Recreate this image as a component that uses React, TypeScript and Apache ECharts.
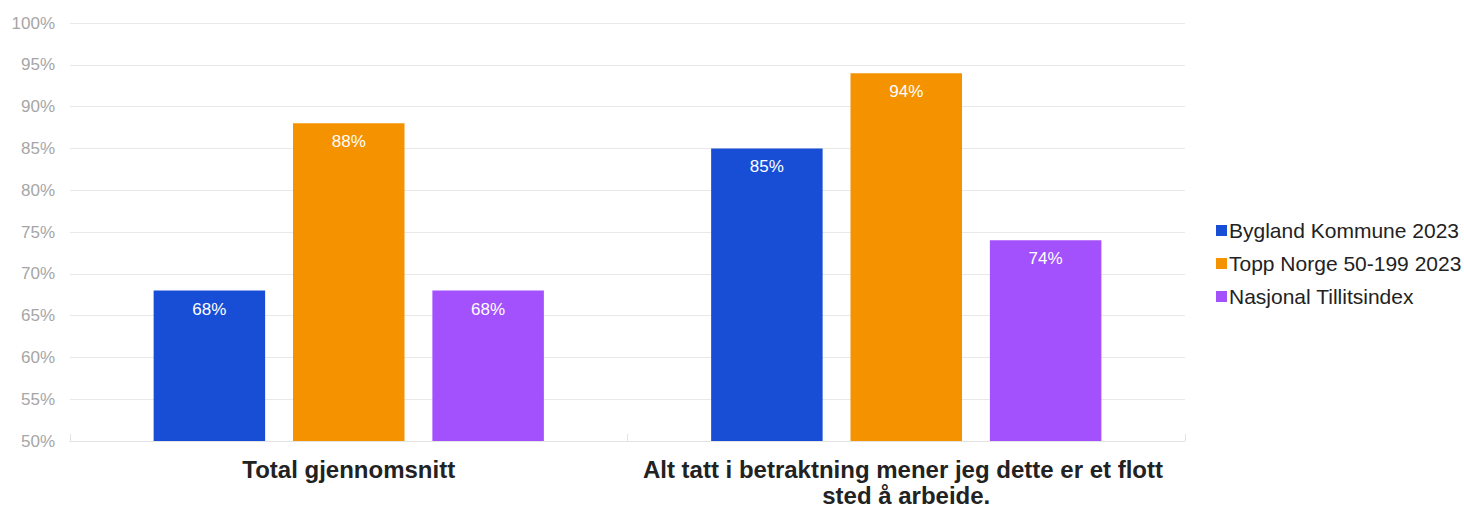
import React, { useEffect, useRef } from "react";
import * as echarts from "echarts";

const categories = [
  "Total gjennomsnitt",
  "Alt tatt i betraktning mener jeg dette er et flott sted å arbeide.",
];
const seriesNames = ["Bygland Kommune 2023", "Topp Norge 50-199 2023", "Nasjonal Tillitsindex"];
const bygland = [68, 85];
const toppNorge = [88, 94];
const nasjonal = [68, 74];
const colors = ["#184ED6", "#F59200", "#A351FD"];

export default function App() {
  const ref = useRef<HTMLDivElement>(null);
  useEffect(() => {
    if (!ref.current) return;
    const chart = echarts.init(ref.current, undefined, { renderer: "svg" });
    const data = [bygland, toppNorge, nasjonal];
    chart.setOption({
      animation: false,
      textStyle: { fontFamily: "Liberation Sans, Arial, sans-serif" },
      grid: {
        left: 70,
        right: 279,
        top: 23,
        bottom: 66,
        containLabel: false,
        outerBoundsMode: "none",
      },
      legend: {
        orient: "vertical",
        left: 1211,
        top: 215,
        itemWidth: 11,
        itemHeight: 11,
        itemGap: 12,
        icon: "rect",
        textStyle: { fontSize: 21, color: "#222", padding: [0, 0, 0, -3] },
        data: seriesNames,
      },
      xAxis: {
        type: "category",
        data: categories,
        axisLine: { lineStyle: { color: "#e3e3e3", width: 1 } },
        axisTick: { show: true, inside: true, length: 7, lineStyle: { color: "#e3e3e3" } },
        axisLabel: {
          fontSize: 24,
          fontWeight: "bold",
          color: "#222",
          margin: 15,
          width: 545,
          overflow: "break",
          lineHeight: 26,
          interval: 0,
        },
      },
      yAxis: {
        type: "value",
        min: 50,
        max: 100,
        interval: 5,
        axisLabel: { formatter: "{value}%", color: "#a6a6a6", fontSize: 17, margin: 15 },
        splitLine: { lineStyle: { color: "#e8e8e8" } },
        axisLine: { show: false },
        axisTick: { show: false },
      },
      series: data.map((d, i) => ({
        name: seriesNames[i],
        type: "bar",
        data: d,
        barWidth: "20%",
        barGap: "25%",
        itemStyle: { color: colors[i] },
        label: {
          show: true,
          position: "insideTop",
          distance: 10,
          color: "#fff",
          fontSize: 17,
          formatter: "{c}%",
        },
      })),
    });
    return () => chart.dispose();
  }, []);
  return (
    <div
      ref={ref}
      style={{ position: "fixed", left: 0, top: 0, width: 1464, height: 507, background: "#fff" }}
    />
  );
}
